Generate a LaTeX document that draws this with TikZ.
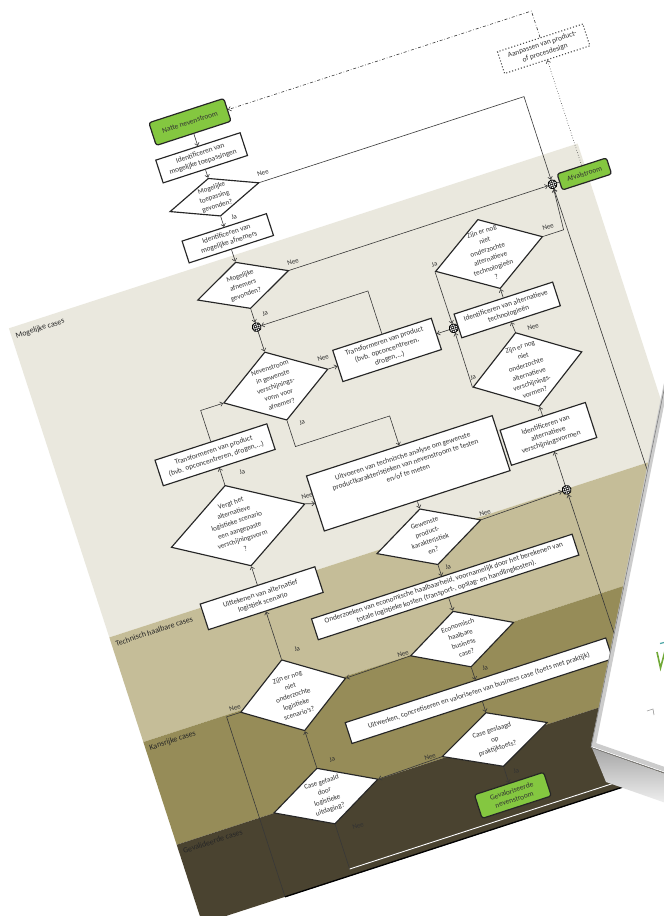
\documentclass[tikz,border=0pt]{standalone}
\usepackage{fontspec}
\setmainfont{Carlito}
\usetikzlibrary{shapes.geometric,arrows.meta}
\definecolor{bandA}{RGB}{234,232,222}
\definecolor{bandB}{RGB}{197,189,152}
\definecolor{bandC}{RGB}{150,140,88}
\definecolor{bandD}{RGB}{74,67,48}
\definecolor{gr}{RGB}{132,199,64}
\definecolor{ink}{RGB}{50,50,50}
\newcommand\myfb{\fontsize{7.4}{9}\selectfont}
\newcommand\myfd{\fontsize{7.1}{9.6}\selectfont}
\newcommand\myfl{\fontsize{7}{8}\selectfont}
\newcommand\myfc{\fontsize{8}{9}\selectfont}
\begin{document}
\begin{tikzpicture}[x=1bp,y=1bp,
 box/.style={draw=black!85,line width=1.15,fill=white,inner sep=1,align=center,font=\myfb,text=ink},
 gbox/.style={box,fill=gr,rounded corners=2.5,line width=1.2},
 dbox/.style={box,draw=black!70,line width=1.1,dotted},
 dia/.style={diamond,draw=black!85,line width=1.15,fill=white,inner sep=0},
 dtext/.style={align=center,font=\myfd,text=ink,inner sep=0},
 junc/.style={circle,draw=black,fill=white,line width=.8,minimum size=9,inner sep=0,
   path picture={\foreach \k in {-2,0,2}{
     \draw[line width=.5] ([shift={(\k,-5)}]path picture bounding box.center) -- ++(0,10);
     \draw[line width=.5] ([shift={(-5,\k)}]path picture bounding box.center) -- ++(10,0);}}},
 conn/.style={draw=black!78,line width=.6},
 arr/.style={conn,-{Straight Barb[length=2.6pt,width=4.6pt]}},
 lab/.style={font=\myfl,text=ink,inner sep=0},
 cas/.style={font=\myfc,text=black!85,anchor=west,inner sep=0}]
\useasboundingbox (0,0) rectangle (664,-916);
\fill[white] (0,0) rectangle (664,-916);
\begin{scope}[rotate=18,transform shape]
% bands
\fill[bandA] (-93,-315) -- (505,-315) -- (505,-640) -- (-93,-640) -- cycle;
\fill[bandB] (-93,-640) -- (505,-640) -- (505,-750) -- (-93,-750) -- cycle;
\fill[bandC] (-93,-750) -- (505,-750) -- (505,-858) -- (-93,-858) -- cycle;
\fill[bandD] (-93,-858) -- (505,-858) -- (505,-941) -- (-93,-941) -- cycle;
\node[cas] (lc1) at (-89,-325) {Mogelijke cases};
\node[cas] (lc2) at (-89,-648) {Technisch haalbare cases};
\node[cas] (lc3) at (-89,-758) {Kansrijke cases};
\node[cas] (lc4) at (-89,-866) {Gevalideerde cases};
% left-centre column
\node[gbox,minimum width=79,minimum height=24] (natte) at (143,-174.7) {Natte nevenstroom};
\node[box,minimum width=89,minimum height=24] (idtoep) at (143,-212.4) {Identificeren van\\mogelijke toepassingen};
\node[dia,minimum width=94,minimum height=40] (dtoep) at (143,-253.8) {};
\node[dtext] (tdtoep) at (dtoep) {Mogelijke\\toepassing\\gevonden?};
\node[box,minimum width=89,minimum height=23] (idafn) at (143,-297) {Identificeren van\\mogelijke afnemers};
\node[dia,minimum width=96,minimum height=49] (dafn) at (143,-346.5) {};
\node[dtext] (tdafn) at (dafn) {Mogelijke\\afnemers\\gevonden?};
\node[junc] (j1) at (143,-390.4) {};
\node[dia,minimum width=110,minimum height=72] (dnev) at (143,-452.4) {};
\node[dtext] (tdnev) at (dnev) {Nevenstroom\\in gewenste\\verschijnings-\\vorm voor\\afnemer?};
% left column
\node[box,minimum width=118,minimum height=27] (tfl) at (64,-499) {Transformeren van product\\(bvb. opconcentreren, drogen,...)};
\node[dia,minimum width=141,minimum height=85] (dvergt) at (64,-573.5) {};
\node[dtext] (tdvergt) at (dvergt) {Vergt het\\alternatieve\\logistieke scenario\\een aangepaste\\verschijningsvorm\\?};
\node[box,minimum width=121,minimum height=27] (uitt) at (64,-649.8) {Uittekenen van alternatief\\logistiek scenario};
\node[dia,minimum width=111,minimum height=75] (dlog) at (64,-751.8) {};
\node[dtext] (tdlog) at (dlog) {Zijn er nog\\niet\\onderzochte\\logistieke\\scenario’s?};
\node[dia,minimum width=110,minimum height=59] (dgef) at (64,-857.8) {};
\node[dtext] (tdgef) at (dgef) {Case gefaald\\door\\logistieke\\uitdaging?};
% middle
\node[box,minimum width=104,minimum height=33] (tfm) at (260,-452.4) {Transformeren van product\\(bvb. opconcentreren,\\drogen,...)};
\node[junc] (j2) at (330,-452.4) {};
\node[box,minimum width=196,minimum height=58] (uitv) at (242,-576.3) {};
\node[dtext,font=\myfb] (tuitv) at (242,-567) {Uitvoeren van technische analyse om gewenste\\productkarakteristieken van nevenstroom te testen\\en/of te meten};
\node[dia,minimum width=110,minimum height=59] (dgew) at (242,-643) {};
\node[dtext] (tdgew) at (dgew) {Gewenste\\product-\\karakteristiek\\en?};
\node[box,minimum width=275,minimum height=22] (onderz) at (242,-695.8) {Onderzoeken van economische haalbaarheid, voornamelijk door het berekenen van\\totale logistieke kosten (transport-, opslag- en handlingkosten).};
\node[dia,minimum width=109,minimum height=59] (deco) at (242,-750.6) {};
\node[dtext] (tdeco) at (deco) {Economisch\\haalbare\\business\\case?};
\node[box,minimum width=275,minimum height=22] (uitw) at (242,-804.9) {Uitwerken, concretiseren en valoriseren van business case (toets met praktijk)};
\node[dia,minimum width=111,minimum height=57] (dges) at (242,-856.2) {};
\node[dtext] (tdges) at (dges) {Case geslaagd\\op\\praktijktoets?};
\node[gbox,minimum width=73,minimum height=25] (gevn) at (242,-914.9) {Gevaloriseerde\\nevenstroom};
% right column
\node[dia,minimum width=113,minimum height=73] (dtech) at (386.6,-392.7) {};
\node[dtext] (tdtech) at (dtech) {Zijn er nog\\niet\\onderzochte\\alternatieve\\technologieën\\?};
\node[box,minimum width=104,minimum height=25] (idtech) at (386.6,-451.5) {Identificeren van alternatieve\\technologieën};
\node[dia,minimum width=115,minimum height=78] (dverv) at (387.5,-514.4) {};
\node[dtext] (tdverv) at (dverv) {Zijn er nog\\niet\\onderzochte\\alternatieve\\verschijnings-\\vormen?};
\node[box,minimum width=90,minimum height=37] (idverv) at (387.5,-582.1) {Identificeren van\\alternatieve\\verschijningsvormen};
\node[junc] (j3) at (387.5,-641) {};
\node[junc] (j4) at (468.5,-346) {};
\node[gbox,minimum width=52,minimum height=17] (afval) at (502,-346) {Afvalstroom};
\node[dbox,minimum width=90,minimum height=23] (aanp) at (502,-214.4) {Aanpassen van product-\\of procesdesign};
% connectors
\draw[arr] (natte.south) -- (idtoep.north);
\draw[arr] (idtoep.south) -- (dtoep.north);
\draw[arr] (dtoep.south) -- (idafn.north);
\draw[arr] (dtoep.east) -- (468.5,-253.8) -- (j4.north);
\draw[arr] (idafn.south) -- (dafn.north);
\draw[arr] (dafn.south) -- (j1.north);
\draw[arr] (dafn.east) -- (j4.west);
\draw[arr] (j1.south) -- (dnev.north);
\draw[arr] (dnev.east) -- (tfm.west);
\draw[arr] (tfm.north) -- (260,-390.4) -- (j1.east);
\draw[arr] (j2.west) -- (tfm.east);
\draw[arr] (dtech.west) -- (j2.north);
\draw[arr] (dverv.west) -- (j2.south);
\draw[arr] (dverv.north) -- (idtech.south);
\draw[arr] (idtech.north) -- (dtech.south);
\draw[arr] (dtech.east) -- (465,-392.7) -- (j4);
\draw[arr] (idverv.north) -- (dverv.south);
\draw[arr] (j3.north) -- (idverv.south);
\draw[arr] (dgew.east) -- (j3.west);
\draw[arr] (dnev.south) -- (143,-516) -- (242,-516) -- (uitv.north);
\draw[arr] (uitv.south) -- (dgew.north);
\draw[arr] (dgew.south) -- (onderz.north);
\draw[arr] (onderz.south) -- (deco.north);
\draw[arr] (deco.south) -- (uitw.north);
\draw[arr] (deco.west) -- (dlog.east);
\draw[arr] (uitw.south) -- (dges.north);
\draw[arr] (dges.south) -- (gevn.north);
\draw[arr] (dges.west) -- (dgef.east);
\draw[arr] (dgef.north) -- (dlog.south);
\draw[arr] (dlog.north) -- (uitt.south);
\draw[arr] (uitt.north) -- (dvergt.south);
\draw[arr] (dvergt.north) -- (tfl.south);
\draw[arr] (dvergt.east) -- (uitv.west);
\draw[arr] (tfl.north) -- (64,-452.4) -- (dnev.west);
\draw[arr] (dlog.west) -- (-6,-751.8) -- (-6,-941) -- (472,-941) -- (j4);
\draw[arr] (dgef.south) -- (64,-934.5) -- (389,-934.5) -- (j3);
\draw[conn] (j4.east) -- (afval.west);
\draw[conn,dotted,-{Straight Barb[length=2.6pt,width=4.6pt]}] (afval.north) -- (aanp.south);
\draw[conn,dash dot,-{Straight Barb[length=2.6pt,width=4.6pt]}] (aanp.north) -- (502,-174.7) -- (natte.east);
\draw[white,line width=.9] (64,-934.5) -- (505,-934.5);
\draw[black,line width=1.3] (-6,-941) -- (505,-941);
% labels
\node[lab] (l1) at (196.6,-245.8) {Nee};
\node[lab] (l2) at (155.5,-278.7) {Ja};
\node[lab] (l3) at (197.7,-339.7) {Nee};
\node[lab] (l4) at (155.3,-379.6) {Ja};
\node[lab] (l5) at (196.6,-440.3) {Nee};
\node[lab] (l6) at (156.8,-494.7) {Ja};
\node[lab] (l7) at (331.5,-385.4) {Ja};
\node[lab] (l8) at (451.1,-385.2) {Nee};
\node[lab] (l9) at (405.9,-475.7) {Nee};
\node[lab] (l10) at (333.4,-504.8) {Ja};
\node[lab] (l11) at (138.7,-566.6) {Nee};
\node[lab] (l12) at (84.4,-523.7) {Ja};
\node[lab] (l13) at (302.8,-637.8) {Nee};
\node[lab] (l14) at (250.9,-677.7) {Ja};
\node[lab] (l15) at (181.2,-746.5) {Nee};
\node[lab] (l16) at (254.9,-785.2) {Ja};
\node[lab] (l17) at (82,-709) {Ja};
\node[lab] (l18) at (4.7,-746) {Nee};
\node[lab] (l19) at (175.1,-852.9) {Nee};
\node[lab] (l20) at (252.6,-892.7) {Ja};
\node[lab] (l21) at (81.3,-824.5) {Ja};
\node[lab] (l22) at (85.3,-896.2) {Nee};
\end{scope}
% second page on the right
\shade[top color=black!35,bottom color=white] (592,-748) -- (700,-786) -- (700,-815) -- (606,-782) -- cycle;
\fill[white] (667.5,-384) -- (591,-747) -- (700,-785) -- (700,-384) -- cycle;
\draw[black!20,line width=4.5] (666,-384) -- (593.6,-744.6) -- (700,-781.6);
\draw[black!50,line width=.6] (665.2,-384) -- (591,-747.4) -- (700,-785.2);
\draw[black!40,line width=.6] (647,-711) -- (653,-709) -- (654,-715);
\draw[teal!70,line width=1.2] (660,-643.5) -- (664,-642.5);
\draw[gr!85!black,line width=1.6] (657,-652) -- (660.5,-668) -- (665,-651);
\end{tikzpicture}
\end{document}
